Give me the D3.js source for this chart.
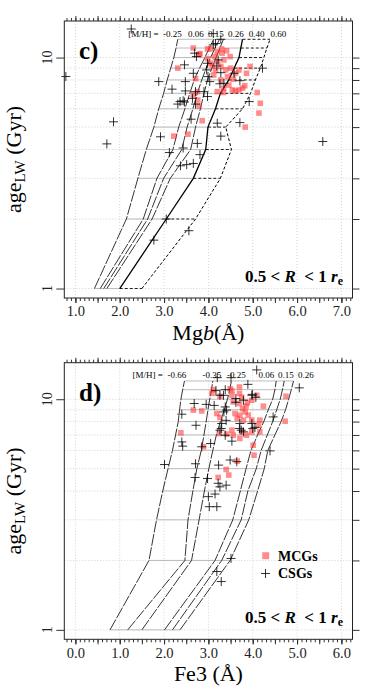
<!DOCTYPE html>
<meta charset="utf-8">
<style>
 body { margin: 0; background: #fff; }
 svg { font-family: 'Liberation Serif', 'Times New Roman', serif; }
</style>
<body>
<script src="https://cdn.jsdelivr.net/npm/d3@7"></script>
<script>

 // model grid ages (Gyr) shared by both panels
 var modelAges = [1, 2, 3, 4, 5, 6, 7, 8, 9, 10, 11, 12];
 var gridAges = [1, 2, 3, 4, 5, 6, 7, 8, 9, 10];

 // panel c) : Mgb model lines, one row per [M/H]
 var mgbMetals = ["-0.25", "0.06", "0.15", "0.26", "0.40", "0.60"];
 var mgbGrid = [
     [1.43, 2.15, 2.41, 2.60, 2.77, 2.88, 2.99, 3.07, 3.15, 3.22, 3.27, 3.31],
     [1.56, 2.53, 2.84, 3.20, 3.33, 3.47, 3.58, 3.68, 3.80, 3.92, 4.02, 4.12],
     [1.64, 2.63, 2.99, 3.40, 3.52, 3.65, 3.75, 3.85, 3.95, 4.05, 4.15, 4.25],
     [1.71, 2.73, 3.14, 3.60, 3.71, 3.82, 3.90, 3.98, 4.08, 4.17, 4.26, 4.34],
     [2.00, 3.05, 3.66, 3.94, 3.99, 4.16, 4.27, 4.46, 4.58, 4.69, 4.73, 4.77],
     [2.50, 3.71, 4.27, 4.52, 4.39, 4.77, 4.95, 5.06, 5.17, 5.25, 5.32, 5.39]
 ];

 // panel d) : Fe3 model lines
 var fe3Metals = ["-0.66", "-0.35", "-0.25", "0.06", "0.15", "0.26"];
 var fe3Grid = [
     [0.78, 1.66, 1.83, 1.97, 2.09, 2.19, 2.26, 2.32, 2.35, 2.38, 2.42, 2.46],
     [1.18, 2.47, 2.54, 2.65, 2.74, 2.84, 2.90, 2.95, 2.99, 3.03, 3.07, 3.10],
     [1.50, 2.62, 2.79, 2.91, 3.01, 3.10, 3.18, 3.27, 3.36, 3.43, 3.48, 3.52],
     [2.01, 3.15, 3.55, 3.72, 3.85, 3.96, 4.11, 4.25, 4.35, 4.45, 4.50, 4.53],
     [2.19, 3.30, 3.74, 3.89, 4.08, 4.19, 4.33, 4.45, 4.54, 4.62, 4.67, 4.71],
     [2.36, 3.49, 3.91, 4.11, 4.26, 4.34, 4.50, 4.64, 4.74, 4.81, 4.87, 4.92]
 ];

 // MCGs (red squares) and CSGs (crosses), Mgb panel
 var mcgMgb =    [3.66, 3.81, 3.31, 4.05, 4.30, 4.31, 4.41, 4.35, 4.49, 4.05, 4.09, 4.16, 4.28, 4.39, 4.50, 4.61, 4.69, 4.86, 4.94, 4.43,
                  4.56, 4.28, 4.34, 4.46, 4.54, 4.61, 4.69, 4.77, 4.82, 3.75, 3.66, 3.76, 3.86, 5.17, 5.14, 4.83, 5.10, 4.14, 4.21, 4.12,
                  4.20, 4.34, 3.22, 3.54, 3.79, 3.98, 3.79, 3.71, 4.20, 3.98];
 var mcgMgbAge = [11.0, 10.4, 9.0, 10.9, 10.9, 10.45, 10.7, 9.77, 10.1, 9.45, 9.2, 8.84, 9.15, 8.84, 9.0, 8.55, 8.84, 8.55, 9.15, 8.27,
                  8.06, 8.0, 7.37, 7.6, 7.24, 7.17, 7.24, 7.37, 7.55, 7.12, 6.89, 6.55, 5.33, 6.34, 5.75, 5.0, 7.06, 10.1, 9.6, 8.4,
                  7.12, 7.06, 4.57, 4.66, 6.17, 10.9, 10.3, 8.1, 10.6, 9.9];
 var csgMgb =    [0.785, 2.26, 2.88, 3.18, 1.86, 1.71, 2.92, 6.58, 5.22, 4.20, 4.71, 4.28, 3.75, 3.81, 3.43, 3.12, 3.37, 3.51, 3.66, 3.05,
                  3.56, 2.77, 3.31, 3.46, 3.71, 3.61, 3.69, 3.73, 3.46, 3.48, 3.66, 3.48, 3.71, 3.36, 3.43, 3.64, 3.90, 3.98, 3.99, 4.03,
                  4.26, 4.35, 3.96, 3.98, 4.11, 4.16, 4.28, 4.19, 4.58, 4.71, 4.22, 4.28, 4.92, 4.11];
 var csgMgbAge = [8.28, 13.3, 7.87, 7.3, 5.27, 4.23, 4.54, 4.33, 9.0, 5.2, 5.23, 4.57, 4.25, 3.8, 4.06, 3.88, 3.4, 3.44, 3.48, 2.0,
                  1.78, 1.62, 6.29, 6.42, 6.29, 5.41, 10.45, 10.1, 9.3, 7.87, 8.55, 7.17, 7.12, 6.45, 6.5, 6.66, 7.12, 6.78, 8.27, 7.87,
                  7.7, 7.74, 8.84, 9.45, 11.35, 11.5, 12.0, 9.2, 8.55, 7.94, 9.77, 8.6, 6.45, 12.7];

 // MCGs and CSGs, Fe3 panel
 var mcgFe3 =    [3.11, 3.08, 3.49, 3.70, 3.70, 3.53, 4.09, 3.75, 3.56, 3.70, 3.88, 3.98, 3.85, 3.77, 4.24, 4.75, 2.66, 2.85, 3.19, 3.26,
                  3.60, 3.71, 3.83, 3.90, 3.65, 3.79, 3.98, 4.16, 4.73, 4.13, 3.98, 3.75, 3.53, 3.86, 4.16, 3.56, 3.41, 3.25, 2.38, 3.71,
                  4.03, 3.65, 2.89, 4.01, 3.40, 3.46, 3.22, 3.26, 3.53];
 var mcgFe3Age = [11.0, 10.6, 11.1, 11.3, 10.6, 10.4, 10.4, 10.2, 9.73, 9.58, 9.64, 9.9, 9.33, 9.1, 9.33, 10.3, 8.97, 8.9, 8.67, 8.33,
                  8.67, 8.53, 8.81, 8.53, 8.25, 8.11, 8.11, 8.11, 8.03, 7.71, 7.22, 7.22, 7.34, 6.98, 7.22, 6.98, 7.06, 7.1, 7.15, 6.76,
                  5.72, 5.39, 6.22, 6.32, 4.96, 4.69, 4.58, 10.3, 10.9];
 var csgFe3 =    [3.20, 3.51, 3.89, 4.09, 5.05, 2.68, 2.95, 2.40, 2.72, 2.40, 2.42, 2.85, 3.05, 2.01, 2.71, 2.70, 2.98, 3.23, 3.49, 3.64,
                  3.22, 3.26, 3.40, 3.15, 3.00, 3.02, 3.19, 4.39, 4.46, 4.07, 3.99, 3.62, 3.71, 3.70, 4.05, 3.79, 3.38, 3.26, 3.30, 3.40,
                  3.35, 3.38, 3.26, 3.17, 3.38, 3.34, 3.13, 3.41, 3.62, 3.79, 3.98, 3.29, 3.74, 3.98, 4.00, 3.53, 3.51, 3.19, 3.29];
 var csgFe3Age = [12.4, 12.4, 11.6, 13.4, 11.2, 9.58, 9.5, 8.61, 7.71, 6.53, 6.26, 6.22, 6.43, 5.21, 5.25, 4.58, 4.53, 5.18, 5.45, 5.36,
                  4.32, 4.17, 4.24, 3.88, 3.78, 3.42, 3.42, 5.97, 8.38, 10.2, 10.5, 10.07, 7.85, 7.47, 7.55, 7.22, 6.98, 7.34, 7.85, 8.1,
                  8.81, 9.26, 10.4, 10.9, 11.0, 10.4, 9.4, 8.97, 9.7, 9.9, 10.4, 7.47, 7.34, 7.85, 7.47, 6.58, 2.04, 1.79, 1.62];

 var svg = d3.select("body").append("svg")
     .attr("width", 374)
     .attr("height", 694);

 var L = 64.3, R = 352.5;

 function drawPanel(p){
     var x = d3.scaleLinear().domain(p.xDomain).range([L, R]);
     var y = d3.scaleLog().domain([0.91, 14.4]).range([p.bottom, p.top]);
     var g = svg.append("g");

     /* dotted background grid */
     g.selectAll(null).data(p.xMajor).join("line")
	 .attr("x1", d => x(d)).attr("x2", d => x(d))
	 .attr("y1", p.top).attr("y2", p.bottom)
	 .attr("stroke", "#d2d2d2").attr("stroke-dasharray", "1,2");
     g.selectAll(null).data(gridAges).join("line")
	 .attr("x1", L).attr("x2", R)
	 .attr("y1", d => y(d)).attr("y2", d => y(d))
	 .attr("stroke", "#d2d2d2").attr("stroke-dasharray", "1,2");

     /* constant age connectors between metallicity lines */
     var segs = [];
     modelAges.forEach(function(a, i){
	 for(var j = 0; j < p.grid.length - 1; j++){
	     segs.push({age: a, x1: p.grid[j][i], x2: p.grid[j+1][i], dashed: j >= p.dashFrom});
	 }
     });
     g.selectAll(null).data(segs).join("line")
	 .attr("x1", d => x(d.x1)).attr("x2", d => x(d.x2))
	 .attr("y1", d => y(d.age)).attr("y2", d => y(d.age))
	 .attr("stroke", d => d.dashed ? "#000" : "#b4b4b4")
	 .attr("stroke-width", 0.9)
	 .attr("stroke-dasharray", d => d.dashed ? "3,2" : null);

     /* constant metallicity lines */
     var line = d3.line().x(d => x(d[0])).y(d => y(d[1]));
     g.selectAll(null).data(p.grid).join("path")
	 .attr("d", row => line(row.map((v, i) => [v, modelAges[i]])))
	 .attr("fill", "none")
	 .attr("stroke", "#000")
	 .attr("stroke-width", (d, i) => p.lineW[i])
	 .attr("stroke-dasharray", (d, i) => p.lineDash[i]);

     /* galaxies */
     g.selectAll(null).data(p.mcgX).join("rect")
	 .attr("x", d => x(d) - 2.8)
	 .attr("y", (d, i) => y(p.mcgAge[i]) - 2.8)
	 .attr("width", 5.6).attr("height", 5.6)
	 .attr("fill", "#ff3030").attr("fill-opacity", 0.55);
     g.selectAll(null).data(p.csgX).join("path")
	 .attr("d", (d, i) => "M" + (x(d) - 4.5) + "," + y(p.csgAge[i]) + "h9M" + x(d) + "," + (y(p.csgAge[i]) - 4.5) + "v9")
	 .attr("stroke", "#000").attr("stroke-width", 0.8);

     /* frame */
     g.append("rect")
	 .attr("x", L).attr("y", p.top)
	 .attr("width", R - L).attr("height", p.bottom - p.top)
	 .attr("fill", "none").attr("stroke", "#222").attr("stroke-width", 1);

     /* axes: minor ticks every 0.1, larger every 0.5 */
     var minor = d3.range(Math.ceil(p.xDomain[0]*10), Math.floor(p.xDomain[1]*10) + 1).map(v => v/10);
     var half = minor.filter(v => Math.abs(v*2 - Math.round(v*2)) < 1e-6);
     function styleAxis(sel){
	 sel.select(".domain").remove();
	 sel.selectAll("line").attr("stroke", "#333");
	 sel.selectAll("text").attr("font-family", "'Liberation Serif', serif").attr("fill", "#222");
     }
     [[d3.axisBottom, p.bottom], [d3.axisTop, p.top]].forEach(function(a){
	 g.append("g").attr("transform", "translate(0," + a[1] + ")")
	     .call(a[0](x).tickValues(minor).tickSize(3).tickFormat("")).call(styleAxis);
	 g.append("g").attr("transform", "translate(0," + a[1] + ")")
	     .call(a[0](x).tickValues(half).tickSize(5).tickFormat("")).call(styleAxis);
     });
     g.append("g").attr("transform", "translate(0," + p.bottom + ")")
	 .call(d3.axisBottom(x).tickValues(p.xMajor).tickSize(5).tickPadding(3).tickFormat(d3.format(".1f")))
	 .call(styleAxis)
	 .selectAll("text").attr("font-size", "14.5px");
     g.append("g").attr("transform", "translate(" + L + ",0)")
	 .call(d3.axisLeft(y).tickValues([1, 10]).tickSize(8).tickFormat("")).call(styleAxis);
     g.append("g").attr("transform", "translate(" + R + ",0)")
	 .call(d3.axisRight(y).tickValues(gridAges).tickSize(7).tickFormat("")).call(styleAxis);
     [1, 10].forEach(function(v){
	 g.append("text")
	     .attr("transform", "translate(51.5," + y(v) + ") rotate(-90)")
	     .attr("text-anchor", "middle").attr("font-size", "14px").attr("fill", "#222")
	     .text(v);
     });

     /* y title */
     var yt = g.append("text")
	 .attr("transform", "translate(20.5," + (p.top + p.bottom)/2 + ") rotate(-90)")
	 .attr("text-anchor", "middle").attr("font-size", "22px");
     yt.append("tspan").text("age");
     yt.append("tspan").attr("dy", 4).attr("font-size", "15px").text("LW");
     yt.append("tspan").attr("dy", -4).text(" (Gyr)");

     /* x title */
     var xt = g.append("text")
	 .attr("x", (L + R)/2).attr("y", p.bottom + 42)
	 .attr("text-anchor", "middle").attr("font-size", "22px")
	 .style("white-space", "pre");
     p.xTitle.forEach(function(t){
	 xt.append("tspan").attr("font-style", t[1] ? "italic" : null).text(t[0]);
     });

     /* panel letter */
     g.append("text").attr("x", 79).attr("y", p.top + 38)
	 .attr("font-size", "25px").attr("font-weight", "bold").text(p.letter);

     /* radial range */
     var rr = g.append("text").attr("x", 343).attr("y", p.bottom - 16)
	 .attr("text-anchor", "end").attr("font-size", "17px").attr("font-weight", "bold")
	 .style("white-space", "pre");
     rr.append("tspan").text("0.5 < ");
     rr.append("tspan").attr("font-style", "italic").text("R");
     rr.append("tspan").text("  < 1 ");
     rr.append("tspan").attr("font-style", "italic").text("r");
     rr.append("tspan").attr("dy", 3).attr("font-size", "12px").text("e");

     /* [M/H] labels */
     g.append("text").attr("x", x(p.mhStart)).attr("y", p.top + 15.5)
	 .attr("font-size", "9px").text("[M/H] =");
     g.selectAll(null).data(p.metals).join("text")
	 .attr("x", (d, i) => x(p.mhX[i])).attr("y", p.top + 15.5)
	 .attr("text-anchor", "middle").attr("font-size", "9px")
	 .text(d => d);

     return {x: x, y: y, g: g};
 }

 drawPanel({
     top: 21, bottom: 298, xDomain: [0.75, 7.25], xMajor: d3.range(1, 8),
     grid: mgbGrid, metals: mgbMetals, dashFrom: 4,
     lineW: [0.8, 0.8, 0.8, 0.8, 1.3, 1.0], lineDash: ["12,1.5", "12,1.5", "12,1.5", "12,1.5", null, "3,2"],
     mhStart: 2.19, mhX: [3.19, 3.72, 4.17, 4.62, 5.09, 5.58],
     mcgX: mcgMgb, mcgAge: mcgMgbAge, csgX: csgMgb, csgAge: csgMgbAge,
     letter: "c)", xTitle: [["Mg", false], ["b", true], ["(Å)", false]]
 });

 var pd = drawPanel({
     top: 362.7, bottom: 639.3, xDomain: [-0.25, 6.25], xMajor: d3.range(0, 7),
     grid: fe3Grid, metals: fe3Metals, dashFrom: 99,
     lineW: [0.8, 0.8, 0.8, 0.8, 0.8, 0.8], lineDash: ["12,1.5", "12,1.5", "12,1.5", "12,1.5", "12,1.5", "12,1.5"],
     mhStart: 1.29, mhX: [2.29, 3.08, 3.63, 4.31, 4.75, 5.20],
     mcgX: mcgFe3, mcgAge: mcgFe3Age, csgX: csgFe3, csgAge: csgFe3Age,
     letter: "d)", xTitle: [["Fe3 (Å)", false]]
 });

 /* legend */
 var lg = pd.g.append("g").attr("font-size", "14px").attr("font-weight", "bold");
 lg.append("rect").attr("x", 262.2).attr("y", 552.2).attr("width", 7).attr("height", 7)
     .attr("fill", "#ff3030").attr("fill-opacity", 0.55);
 lg.append("text").attr("x", 278).attr("y", 560.5).text("MCGs");
 lg.append("path").attr("d", "M261,573.5h9M265.5,569v9").attr("stroke", "#000").attr("stroke-width", 0.8);
 lg.append("text").attr("x", 278).attr("y", 578).text("CSGs");

</script>
</body>
</html>
